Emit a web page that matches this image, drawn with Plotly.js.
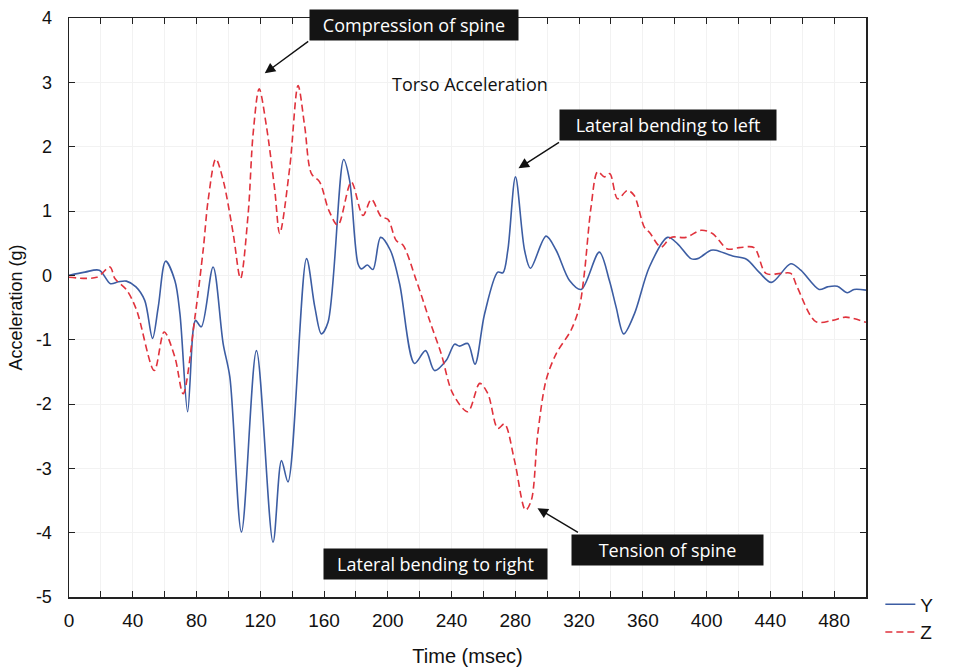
<!DOCTYPE html>
<html>
<head>
<meta charset="utf-8">
<script src="https://cdn.plot.ly/plotly-3.0.1.min.js"></script>
<style>html,body{margin:0;padding:0;background:#fff;}#chart{width:954px;height:671px;}</style>
</head>
<body>
<div id="chart"></div>
<script>
// Time (msec) and acceleration (g)
const timeY = [0,10,19,26,31,36,42,47.5,52.4,56,60.6,66.4,69.6,74.4,77.9,79.4,83,90.4,96.7,100.9,108.2,117.6,128,133.3,137.4,149,154.2,158.3,162.5,172.3,176,181.3,183.4,187.2,190.7,195.5,201.6,207.4,216.8,223.7,229.3,236.7,241.9,245,250.2,254.7,260.7,269,272.2,275.3,280.1,285.8,289.5,299.3,305.6,314,321.3,332.7,339,343.2,348,354.7,364.1,375.5,381.8,390.2,394.4,402.7,405.8,416.3,425,432.9,440.7,452.8,459.1,470.6,475.8,482,488.3,492.5,500];
const accY = [0,0.05,0.08,-0.13,-0.1,-0.09,-0.18,-0.39,-0.98,-0.49,0.22,-0.08,-0.6,-2.12,-0.85,-0.7,-0.8,0.13,-1.06,-1.58,-3.99,-1.17,-4.15,-2.88,-3.21,0.26,-0.49,-0.91,-0.73,1.80,1.48,0.18,0.1,0.16,0.09,0.59,0.39,-0.13,-1.37,-1.17,-1.48,-1.32,-1.07,-1.1,-1.06,-1.38,-0.6,0.05,0.04,0.39,1.53,0.39,0.11,0.61,0.39,-0.08,-0.22,0.36,-0.08,-0.49,-0.91,-0.6,0.13,0.59,0.49,0.26,0.26,0.39,0.39,0.3,0.25,0.05,-0.11,0.18,0.08,-0.22,-0.18,-0.17,-0.27,-0.22,-0.23];

const timeZ = [0,17.4,25.7,28.8,36.2,42.4,53.5,59.7,66.4,71.6,79,84.2,87.3,92.1,96.7,103,107.6,112.4,115.5,119.3,123.9,129.1,132.2,138.5,143.7,147.9,152.1,157.3,163,168.7,177.1,184.4,189.7,195.9,200.1,205.3,209.5,217.9,226.2,233.5,240.8,250.2,257.7,262.8,269,273.2,279.5,286.4,290,294.1,299.3,305.6,315,320.2,323.3,327.5,331.7,335.9,339.3,344.2,350.4,354.6,360.9,364.1,371.4,377.7,387,396.5,403.7,413.1,420.5,429.8,437.2,446.6,452.8,456.8,468.5,478.9,487.3,500];
const accZ = [-0.03,-0.03,0.13,-0.05,-0.23,-0.54,-1.48,-0.88,-1.27,-1.84,-0.65,0.4,1.17,1.81,1.48,0.65,-0.05,0.96,2.2,2.90,2.31,1.32,0.65,1.68,2.95,2.31,1.58,1.45,1.01,0.78,1.45,0.93,1.18,0.91,0.87,0.54,0.47,-0.08,-0.7,-1.22,-1.84,-2.12,-1.68,-1.84,-2.38,-2.31,-2.88,-3.65,-3.5,-2.46,-1.63,-1.22,-0.85,-0.49,0.03,1.06,1.61,1.53,1.58,1.19,1.32,1.24,0.75,0.67,0.44,0.59,0.59,0.7,0.65,0.41,0.43,0.43,0.03,0.03,0.03,-0.18,-0.72,-0.7,-0.65,-0.73];

const xTickVals = [0,40,80,120,160,200,240,280,320,360,400,440,480];
const yTickVals = [-5,-4,-3,-2,-1,0,1,2,3,4];
const yTickText = ['-5','-4','-3','-2','-1','0','1','2','3','4'];
const seriesNames = ['Y','Z'];

const traces = [
  {x: timeY, y: accY, name: seriesNames[0], type: 'scatter', mode: 'lines',
   line: {color: '#3c5da3', width: 1.6, shape: 'spline', smoothing: 0.9}},
  {x: timeZ, y: accZ, name: seriesNames[1], type: 'scatter', mode: 'lines',
   line: {color: '#e0323c', width: 1.6, dash: '7px,4px', shape: 'spline', smoothing: 0.9}}
];

const boxFont = {family: 'Open Sans, Noto Sans, sans-serif', size: 18, color: '#ffffff'};
function box(txt, x, y, w) {
  return {text: txt, x: x, y: y, xref: 'x', yref: 'y', showarrow: false,
    bgcolor: '#141414', font: boxFont, width: w, height: 22, borderpad: 4,
    xanchor: 'center', yanchor: 'middle'};
}
function arrow(x, y, ax, ay) {
  return {text: '', x: x, y: y, xref: 'x', yref: 'y', ax: ax, ay: ay,
    showarrow: true, arrowhead: 2, arrowsize: 1.5, arrowwidth: 1.4, arrowcolor: '#111111', standoff: 0};
}

const layout = {
  width: 954, height: 671,
  margin: {l: 69, r: 88, t: 18, b: 74},
  paper_bgcolor: '#ffffff', plot_bgcolor: '#ffffff',
  font: {family: 'Liberation Sans, Arial, sans-serif', size: 17, color: '#111111'},
  showlegend: true,
  legend: {x: 1.018, xanchor: 'left', y: 0.02, yanchor: 'top', bgcolor: 'rgba(0,0,0,0)',
    font: {family: 'Liberation Sans, Arial, sans-serif', size: 19, color: '#111'}, tracegroupgap: 0},
  xaxis: {
    range: [0, 500], tickvals: xTickVals, ticks: 'inside', ticklen: 6, tickcolor: '#222',
    showline: true, linecolor: '#222', linewidth: 1.5, mirror: 'ticks',
    showgrid: true, gridcolor: '#f2f2f2', zeroline: false, ticklabelstandoff: 6,
    minor: {dtick: 20, ticks: 'inside', ticklen: 6, tickcolor: '#222', showgrid: true, gridcolor: '#f2f2f2'},
    tickfont: {family: 'Liberation Sans Narrow, Liberation Sans, Arial, sans-serif', size: 19},
    title: {text: 'Time (msec)', font: {family: 'Liberation Sans Narrow, Liberation Sans, Arial, sans-serif', size: 20}, standoff: 18}
  },
  yaxis: {
    range: [-5, 4], tickvals: yTickVals, ticktext: yTickText, ticks: 'inside', ticklen: 6, tickcolor: '#222',
    showline: true, linecolor: '#222', linewidth: 1.5, mirror: 'ticks',
    showgrid: true, gridcolor: '#f2f2f2', zeroline: false, ticklabelstandoff: 12,
    tickfont: {family: 'Liberation Sans, Arial, sans-serif', size: 18},
    title: {text: 'Acceleration (g)', font: {family: 'Liberation Sans, Arial, sans-serif', size: 18}, standoff: 8}
  },
  annotations: [
    box('Compression of spine', 216.2, 3.886, 200),
    box('Lateral bending to left', 376, 2.33, 208),
    box('Tension of spine', 375.7, -4.27, 183),
    box('Lateral bending to right', 229.7, -4.48, 215),
    {text: 'Torso Acceleration', x: 251.3, y: 2.97, xref: 'x', yref: 'y', showarrow: false,
     font: {family: 'Open Sans, Noto Sans, sans-serif', size: 18, color: '#111'}},
    arrow(122.8, 3.14, 45, -33),
    arrow(282, 1.663, 42, -27),
    arrow(293.9, -3.62, 42, 25)
  ]
};

Plotly.newPlot('chart', traces, layout, {displayModeBar: false, staticPlot: true});
</script>
</body>
</html>
